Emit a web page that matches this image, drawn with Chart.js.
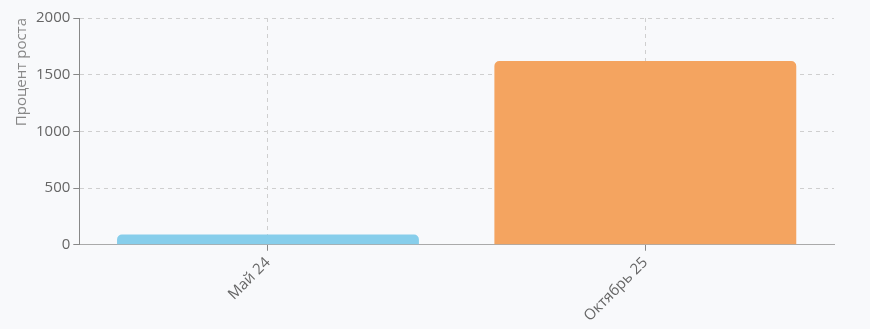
<!DOCTYPE html>
<html>
<head>
<meta charset="utf-8">
<script src="https://cdn.jsdelivr.net/npm/chart.js@4/dist/chart.umd.min.js"></script>
<style>
  html, body { margin: 0; padding: 0; background: #f8f9fb; }
  #wrap { width: 870px; height: 329px; }
</style>
</head>
<body>
<div id="wrap"><canvas id="growth-chart"></canvas></div>
<script>
// periods and growth values
const periods = ['Май 24', 'Октябрь 25'];
const growth = [90, 1620];
const barColors = ['#87ceeb', '#f4a460'];
const yTicks = [0, 500, 1000, 1500, 2000];

Chart.defaults.font.family = '"Open Sans", sans-serif';
Chart.defaults.color = '#666';

const canvas = document.querySelector('#growth-chart');
new Chart(canvas.getContext('2d'), {
    type: 'bar',
    data: {
        labels: periods,
        datasets: [{
            label: 'Процент роста',
            data: growth,
            backgroundColor: barColors,
            borderRadius: 5,
            borderSkipped: 'bottom',
            categoryPercentage: 1,
            barPercentage: 0.8
        }]
    },
    options: {
        responsive: true,
        maintainAspectRatio: false,
        animation: false,
        layout: { padding: { top: 18, right: 36, left: 13, bottom: 1 } },
        plugins: {
            legend: { display: false },
            tooltip: { enabled: false }
        },
        scales: {
            x: {
                grid: {
                    offset: false,
                    color: '#cfcfcf',
                    tickColor: '#888',
                    tickLength: 6
                },
                border: { color: '#aaa', dash: [4, 4] },
                ticks: {
                    font: { size: 15 },
                    maxRotation: 45,
                    minRotation: 45
                }
            },
            y: {
                min: 0,
                max: 2000,
                afterBuildTicks: axis => { axis.ticks = yTicks.map(v => ({ value: v })); },
                grid: {
                    color: '#cfcfcf',
                    tickColor: '#888',
                    tickLength: 6
                },
                border: { color: '#888', dash: [4, 4] },
                ticks: {
                    font: { size: 15 },
                    callback: v => String(v)
                },
                title: {
                    display: true,
                    text: 'Процент роста',
                    align: 'end',
                    font: { size: 15 },
                    color: '#888',
                    padding: { top: 0, bottom: 2 }
                }
            }
        }
    }
});
</script>
</body>
</html>
